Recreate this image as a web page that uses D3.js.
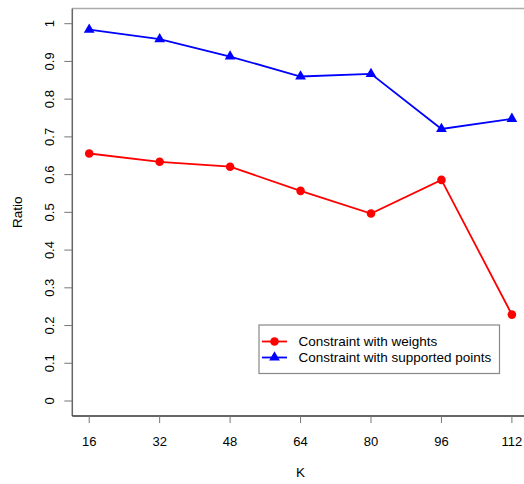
<!DOCTYPE html>
<html><head><meta charset="utf-8">
<script src="https://cdn.jsdelivr.net/npm/d3@7"></script>
<style>body{margin:0;background:#fff}svg{display:block}text{font-family:"Liberation Sans",Arial,sans-serif;fill:#000}</style>
</head><body><svg id="c" width="524" height="484"></svg>
<script>
const categories = [16, 32, 48, 64, 80, 96, 112];
const weights = [0.656, 0.634, 0.621, 0.557, 0.497, 0.586, 0.229];
const supported = [0.984, 0.959, 0.913, 0.860, 0.867, 0.721, 0.748];
const yTicks = [0, 0.1, 0.2, 0.3, 0.4, 0.5, 0.6, 0.7, 0.8, 0.9, 1];
const seriesNames = ["Constraint with weights", "Constraint with supported points"];

const svg = d3.select("#c");
const L = 72.3, R = 528.8, T = 8.6, B = 416.1;
const x = d3.scaleLinear().domain([12.16, 115.84]).range([L, R]);
const y = d3.scaleLinear().domain([-0.04, 1.04]).range([B, T]);

// frame
svg.append("line").attr("x1", L).attr("x2", R).attr("y1", T).attr("y2", T).attr("stroke", "#aaa").attr("stroke-width", 1.5);
svg.append("line").attr("x1", L).attr("x2", L).attr("y1", T).attr("y2", B).attr("stroke", "#666").attr("stroke-width", 1.5);
svg.append("line").attr("x1", L).attr("x2", R).attr("y1", B).attr("y2", B).attr("stroke", "#333").attr("stroke-width", 1.5);

// y axis
const ya = svg.append("g");
yTicks.forEach(t => {
  ya.append("line").attr("x1", L - 8).attr("x2", L).attr("y1", y(t)).attr("y2", y(t)).attr("stroke", "#777").attr("stroke-width", 1);
  ya.append("text").attr("transform", `translate(${54},${y(t)}) rotate(-90)`).attr("text-anchor", "middle").attr("font-size", 13).text(d3.format("~g")(t));
});
// x axis
const xa = svg.append("g");
categories.forEach(c => {
  xa.append("line").attr("x1", x(c)).attr("x2", x(c)).attr("y1", B).attr("y2", B + 7).attr("stroke", "#777").attr("stroke-width", 1);
  xa.append("text").attr("x", x(c)).attr("y", 445.5).attr("text-anchor", "middle").attr("font-size", 13).text(c);
});
svg.append("text").attr("x", (L + R) / 2).attr("y", 477).attr("text-anchor", "middle").attr("font-size", 13.5).text("K");
svg.append("text").attr("transform", `translate(22,${(T + B) / 2}) rotate(-90)`).attr("text-anchor", "middle").attr("font-size", 13.5).text("Ratio");

const line = d3.line().x((d, i) => x(categories[i])).y(d => y(d));
svg.append("path").datum(weights).attr("d", line).attr("fill", "none").attr("stroke", "#ff0000").attr("stroke-width", 1.8);
svg.append("path").datum(supported).attr("d", line).attr("fill", "none").attr("stroke", "#0000ff").attr("stroke-width", 1.8);

const tri = d3.symbol().type(d3.symbolTriangle).size(50);
svg.selectAll(".pw").data(weights).join("circle").attr("cx", (d, i) => x(categories[i])).attr("cy", d => y(d)).attr("r", 4.3).attr("fill", "#ff0000");
svg.selectAll(".ps").data(supported).join("path").attr("d", tri).attr("transform", (d, i) => `translate(${x(categories[i])},${y(d)})`).attr("fill", "#0000ff");

// legend
const lg = svg.append("g");
lg.append("rect").attr("x", 259).attr("y", 325).attr("width", 240.5).attr("height", 48.5).attr("fill", "#fff").attr("stroke", "#888").attr("stroke-width", 1.2);
const rows = [
  {name: seriesNames[0], color: "#ff0000", sym: "c", yy: 341.5},
  {name: seriesNames[1], color: "#0000ff", sym: "t", yy: 357.5}
];
rows.forEach(r => {
  lg.append("line").attr("x1", 262).attr("x2", 287).attr("y1", r.yy).attr("y2", r.yy).attr("stroke", r.color).attr("stroke-width", 1.8);
  if (r.sym === "c") lg.append("circle").attr("cx", 274.5).attr("cy", r.yy).attr("r", 4.3).attr("fill", r.color);
  else lg.append("path").attr("d", tri).attr("transform", `translate(274.5,${r.yy})`).attr("fill", r.color);
  lg.append("text").attr("x", 298.5).attr("y", r.yy + 4.6).attr("font-size", 13.5).text(r.name);
});
</script></body></html>
